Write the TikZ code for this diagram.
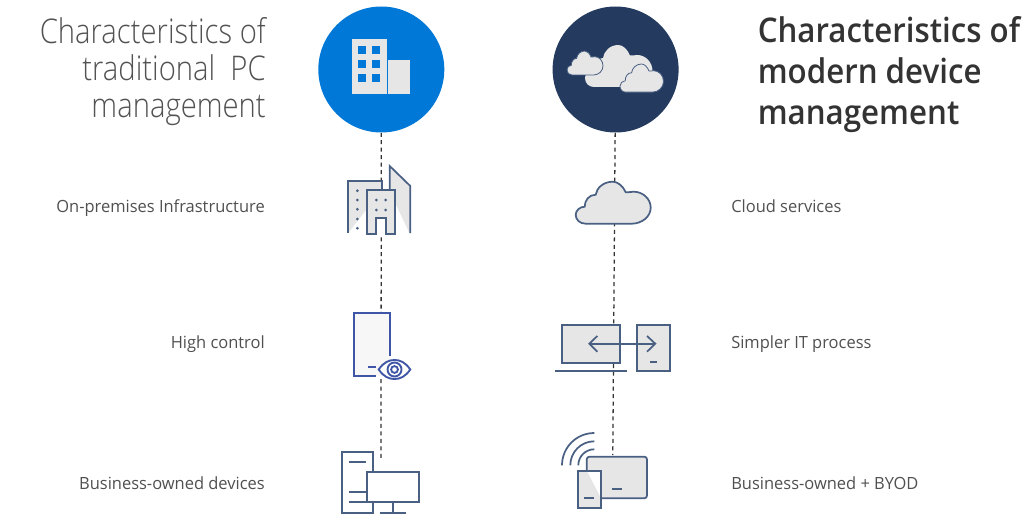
\documentclass[tikz,border=0pt]{standalone}
\usepackage{fontspec}
\setmainfont[FakeStretch=0.98]{Open Sans}
\newfontfamily\lightfont[UprightFont={* Light},FakeStretch=0.86]{Open Sans}
\newfontfamily\semifont[UprightFont={* Semibold},FakeStretch=0.92]{Open Sans}
\definecolor{azure}{HTML}{0078D7}
\definecolor{navy}{HTML}{243A5E}
\definecolor{panel}{HTML}{E6E6E6}
\definecolor{slate}{HTML}{4A6083}
\definecolor{royal}{HTML}{3F55A5}
\definecolor{labelgray}{HTML}{505050}
\newcommand{\cloudshape}{(10,42) -- (56,42) .. controls (66,42) and (75,35) .. (75,26) .. controls (75,17) and (67,10) .. (58,10) .. controls (55,10) and (52,11) .. (50,10.5) .. controls (47,4) and (42,0) .. (37,0) .. controls (28,0) and (21,6) .. (20,13) .. controls (13,13) and (9,19) .. (9,25) .. controls (4,25) and (0,29) .. (0,33) .. controls (0,38) and (4,42) .. (10,42) -- cycle}
\begin{document}
\begin{tikzpicture}[x=0.75pt,y=-0.75pt,
  hub/.style={circle,minimum size=94.5pt,inner sep=0pt},
  dashline/.style={draw=black!80,line width=0.95pt,dash pattern=on 3pt off 2.6pt},
  iconline/.style={draw=slate,line width=1.3pt},
  towerline/.style={draw=royal,line width=1.4pt},
  leftlabel/.style={anchor=base east,font=\fontsize{12.6}{15}\selectfont,text=labelgray,inner sep=0pt},
  rightlabel/.style={anchor=base west,font=\fontsize{12.6}{15}\selectfont,text=labelgray,inner sep=0pt}]
\useasboundingbox (0,0) rectangle (1024,531);
\node[hub,fill=azure] (oldhub) at (381.3,69.5) {};
\node[hub,fill=navy] (newhub) at (615.6,69.5) {};
\coordinate (oldend) at (381,458);
\coordinate (newend) at (612.8,455);
\draw[dashline] (oldhub) -- (oldend);
\draw[dashline] (newhub) -- (newend);
\node[anchor=north east,align=right,inner sep=0pt,text=black!68,font=\lightfont\fontsize{25.5}{27.6}\selectfont] (oldtitle) at (266,17.4) {Characteristics of\\traditional\ \ PC\\management};
\node[anchor=north west,align=left,inner sep=0pt,text=black!80,font=\semifont\fontsize{25.5}{31}\selectfont] (newtitle) at (757.5,16) {Characteristics of\\modern device\\management};
\node[leftlabel] (oldinfra) at (265,212.5) {On-premises Infrastructure};
\node[leftlabel] (oldcontrol) at (265,348.5) {High control};
\node[leftlabel] (olddevices) at (265,489) {Business-owned devices};
\node[rightlabel] (newinfra) at (731,212.5) {Cloud services};
\node[rightlabel] (newcontrol) at (731,348.5) {Simpler IT process};
\node[rightlabel] (newdevices) at (731,489) {Business-owned + BYOD};
% hub icons
\fill[panel] (352,39) rectangle (387,94);
\fill[panel] (388,60) rectangle (410.3,94);
\foreach \wx in {358,372}
  \foreach \wy in {46,60,74}
    \fill[azure] (\wx,\wy) rectangle ++(8.4,8.4);
\fill[panel,shift={(585,45)},xscale=0.9,yscale=1] \cloudshape;
\filldraw[fill=panel,draw=slate,line width=0.6pt,shift={(567,51)},xscale=0.48,yscale=0.57] \cloudshape;
\filldraw[fill=panel,draw=slate,line width=0.6pt,shift={(620,64)},xscale=0.58,yscale=0.67] \cloudshape;
% buildings
\fill[panel] (348,233) -- (348,181) -- (381.7,181) -- (381.7,233) -- cycle;
\fill[white] (348,233.5) -- (367,209) -- (367,233.5) -- cycle;
\fill[panel] (389.7,233) -- (389.7,166) -- (410.3,186) -- (410.3,233) -- cycle;
\fill[white] (396,205) -- (409.5,233.5) -- (396,233.5) -- cycle;
\draw[iconline] (348,233) -- (348,181) -- (381.7,181) -- (381.7,190);
\draw[iconline] (389.7,190) -- (389.7,166) -- (410.3,186) -- (410.3,233);
\filldraw[iconline,fill=panel] (367,234.3) -- (367,190) -- (395.3,190) -- (395.3,234.3) -- (386,234.3) -- (386,218.3) -- (376.3,218.3) -- (376.3,234.3) -- cycle;
\fill[white] (377,219) rectangle (385.4,236);
\foreach \dy in {190.7,200,209.3,219,228.3}
  \fill[slate] (357.3,\dy) circle (1.5);
\foreach \dx in {376.3,385.7}
  \foreach \dy in {200,210}
    \fill[slate] (\dx,\dy) circle (1.5);
\filldraw[iconline,fill=panel,shift={(575.7,181.7)}] \cloudshape;
% tower with eye
\fill[black!3] (353.7,312.7) rectangle (390.3,375.7);
\draw[towerline] (375.7,375.7) -- (353.7,375.7) -- (353.7,312.7) -- (390.3,312.7) -- (390.3,356);
\draw[towerline] (367.7,366.7) -- (375.7,366.7);
\filldraw[towerline,fill=white] (378.7,369.5) .. controls (384,362) and (389,360) .. (394.5,360) .. controls (400,360) and (405,362) .. (410.3,369.5) .. controls (405,377) and (400,379) .. (394.5,379) .. controls (389,379) and (384,377) .. (378.7,369.5) -- cycle;
\draw[towerline] (394.5,369.5) circle (7);
\draw[towerline] (394.5,369.5) circle (3.4);
% desktop
\draw[iconline] (342.3,451.7) rectangle (373,512.7);
\draw[iconline] (349.3,461.7) -- (365.7,461.7);
\draw[iconline] (349.3,492) -- (367,492);
\draw[iconline] (349.3,502.3) -- (367,502.3);
\filldraw[iconline,fill=white] (367.3,472) rectangle (418.7,502.3);
\draw[iconline] (393,502.3) -- (393,512.7);
\draw[iconline] (380,512.7) -- (406.3,512.7);
% laptop and tablet
\filldraw[iconline,fill=panel] (562,324.7) rectangle (620.3,362.7);
\draw[iconline] (555,370.7) -- (627.3,370.7);
\filldraw[iconline,fill=panel] (637.3,324.7) rectangle (670,370.7);
\draw[iconline] (650.3,362) -- (657.3,362);
\draw[iconline] (589.3,343.7) -- (655.3,343.7);
\draw[iconline] (597.3,336) -- (589.3,343.7) -- (597.3,351.7);
\draw[iconline] (647,336) -- (655.3,343.7) -- (647,351.7);
% wireless devices
\foreach \wr in {16,24,32.3}
  \draw[iconline] (594.3-\wr,465.3) arc (180:270:\wr);
\filldraw[iconline,fill=panel,rounded corners=2pt] (586.7,456.7) rectangle (647,498.3);
\draw[iconline] (611.7,489) -- (622.3,489);
\fill[panel] (577.7,470.7) rectangle (601,508);
\fill[white] (587.3,471.5) -- (600.5,471.5) -- (600.5,497) -- cycle;
\draw[iconline] (577.7,470.7) rectangle (601,508);
\draw[iconline] (584.3,498.3) -- (594.3,498.3);
\end{tikzpicture}
\end{document}
